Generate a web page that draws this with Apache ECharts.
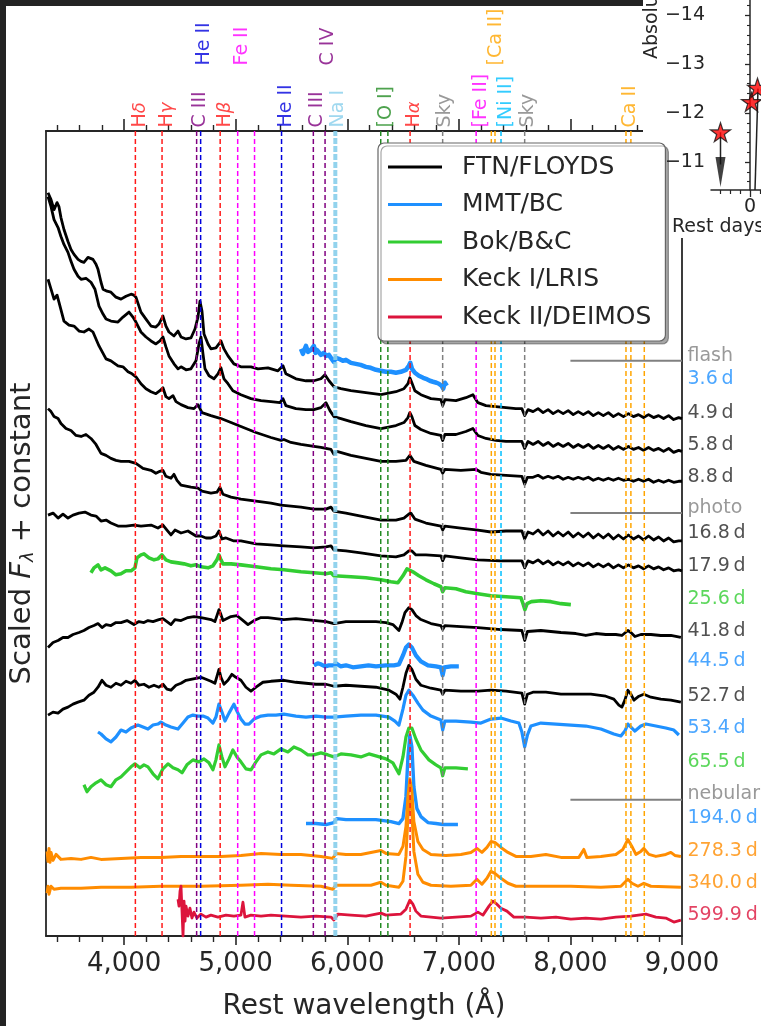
<!DOCTYPE html>
<html>
<head>
<meta charset="utf-8">
<script src="https://cdn.jsdelivr.net/npm/echarts@6/dist/echarts.min.js"></script>
<style>
html, body { margin: 0; padding: 0; background: #ffffff; }
#chart { width: 761px; height: 1026px; }
</style>
</head>
<body>
<div id="chart"></div>
<script>
// ---------- wavelength axis ticks (Angstrom) ----------
const waveMajorTicks = [4000, 5000, 6000, 7000, 8000, 9000];
const waveMinorTicks = [3400, 3600, 3800, 4200, 4400, 4600, 4800, 5200, 5400, 5600, 5800,
  6200, 6400, 6600, 6800, 7200, 7400, 7600, 7800, 8200, 8400, 8600, 8800];

// ---------- instruments ----------
const instruments = ['FTN/FLOYDS', 'MMT/BC', 'Bok/B&C', 'Keck I/LRIS', 'Keck II/DEIMOS'];
const instrumentColors = ['#000000', '#1e90ff', '#32cd32', '#ff8c00', '#dc143c'];

// ---------- spectra: [rest wavelength, scaled flux + constant] ----------
const spec_3_6 = [[5585,59.0],[5603,58.5],[5612,58.8],[5630,59.3],[5648,58.7],[5674,58.9],[5701,59.3],[5715,58.6],[5728,58.9],[5764,58.4],[5790,58.6],[5809,58.3],[5836,58.4],[5854,58.1],[5880,57.7],[5898,58.1],[5925,58.0],[5960,57.8],[5988,57.9],[6033,57.6],[6077,57.5],[6120,57.4],[6167,57.2],[6210,57.1],[6257,56.9],[6300,56.8],[6347,56.7],[6390,56.7],[6436,56.6],[6480,56.7],[6526,56.9],[6552,57.3],[6565,57.6],[6580,57.0],[6606,56.6],[6642,56.3],[6680,56.1],[6705,56.0],[6740,55.8],[6768,55.7],[6800,55.6],[6821,55.5],[6845,55.3],[6860,55.0],[6875,55.6],[6893,55.3]];

const spec_4_9 = [[3318,74.7],[3345,74.0],[3372,73.0],[3399,73.7],[3416,73.3],[3434,72.2],[3461,71.0],[3497,69.8],[3524,69.0],[3551,68.5],[3587,68.0],[3614,67.8],[3640,67.7],[3676,68.2],[3721,68.0],[3748,67.5],[3766,67.0],[3793,65.7],[3811,65.0],[3847,64.8],[3882,64.7],[3927,64.2],[3972,64.0],[4017,64.3],[4062,64.5],[4088,64.4],[4106,64.2],[4151,62.7],[4196,62.0],[4241,61.3],[4285,61.2],[4312,61.5],[4348,62.3],[4375,61.3],[4402,60.7],[4447,60.3],[4483,60.8],[4510,60.2],[4555,60.0],[4599,60.1],[4635,61.0],[4662,62.2],[4680,63.8],[4698,62.8],[4716,60.5],[4752,59.5],[4778,59.0],[4823,59.1],[4850,59.5],[4868,59.8],[4895,59.0],[4931,58.3],[4984,57.5],[5047,57.2],[5137,57.2],[5200,57.0],[5289,57.1],[5379,56.8],[5424,57.3],[5450,56.5],[5540,56.0],[5630,55.8],[5701,55.8],[5764,56.0],[5800,56.4],[5836,55.8],[5880,55.2],[5943,55.0],[6033,54.8],[6167,54.6],[6302,54.4],[6436,54.7],[6508,55.0],[6544,55.5],[6561,56.1],[6579,55.6],[6606,54.8],[6660,54.4],[6750,54.0],[6839,53.9],[6855,53.3],[6875,53.9],[6974,53.8],[7063,54.1],[7126,54.4],[7171,53.6],[7243,53.3],[7332,53.2],[7422,53.1],[7511,53.0],[7565,53.0],[7590,52.3],[7620,52.9],[7665,52.7],[7710,53.0],[7755,52.6],[7800,52.9],[7845,52.5],[7890,52.8],[7935,52.5],[7980,52.8],[8025,52.4],[8070,52.7],[8115,52.4],[8160,52.7],[8205,52.3],[8250,52.6],[8295,52.3],[8340,52.6],[8385,52.2],[8430,52.5],[8475,52.2],[8520,52.5],[8565,52.2],[8610,52.4],[8655,52.1],[8700,52.4],[8745,52.1],[8790,52.3],[8835,52.0],[8880,52.3],[8925,51.9],[8970,52.1],[9000,52.0]];

const spec_5_8 = [[3318,74.3],[3345,73.3],[3372,72.0],[3408,71.2],[3434,70.3],[3461,69.5],[3497,68.7],[3524,67.8],[3551,67.0],[3587,66.3],[3614,66.0],[3658,66.1],[3703,65.7],[3739,65.0],[3775,63.3],[3811,62.5],[3838,62.0],[3882,61.8],[3945,61.7],[3990,62.2],[4044,62.7],[4079,62.2],[4106,61.7],[4151,60.7],[4196,60.2],[4241,59.8],[4285,59.5],[4321,59.8],[4348,60.2],[4375,59.2],[4402,58.3],[4447,57.5],[4483,57.0],[4510,57.2],[4555,56.9],[4599,57.0],[4644,57.8],[4671,59.5],[4689,60.2],[4707,58.5],[4725,57.0],[4761,56.3],[4805,56.0],[4841,56.5],[4868,57.1],[4895,56.0],[4931,55.5],[4975,54.8],[5047,54.4],[5137,54.0],[5227,53.8],[5316,53.7],[5397,53.6],[5424,54.0],[5450,53.3],[5540,53.0],[5630,52.9],[5701,52.9],[5764,53.1],[5809,53.6],[5845,52.8],[5880,52.2],[5943,52.0],[6033,51.7],[6167,51.3],[6302,51.0],[6436,51.3],[6508,51.6],[6544,52.1],[6561,52.6],[6579,52.2],[6606,51.3],[6660,50.9],[6750,50.5],[6839,50.3],[6855,49.8],[6875,50.4],[6974,50.4],[7063,50.7],[7126,51.0],[7171,50.3],[7243,50.0],[7332,49.8],[7422,49.7],[7565,49.7],[7590,49.0],[7620,49.7],[7665,49.4],[7710,49.7],[7755,49.3],[7800,49.6],[7845,49.2],[7890,49.5],[7935,49.2],[7980,49.5],[8025,49.1],[8070,49.4],[8115,49.1],[8160,49.4],[8205,49.0],[8250,49.3],[8295,49.0],[8340,49.3],[8385,48.9],[8430,49.2],[8475,48.9],[8520,49.2],[8565,48.9],[8610,49.1],[8655,48.8],[8700,49.1],[8745,48.8],[8790,49.0],[8835,48.7],[8880,49.0],[8925,48.6],[8970,48.8],[9000,48.7]];

const spec_8_8 = [[3318,66.0],[3345,65.0],[3372,64.0],[3399,64.4],[3416,63.7],[3461,61.8],[3506,61.4],[3551,61.3],[3596,60.8],[3640,60.7],[3685,61.0],[3721,60.7],[3775,59.3],[3838,58.0],[3882,57.8],[3945,57.3],[3990,57.2],[4035,56.7],[4071,56.5],[4106,56.2],[4151,55.5],[4196,55.0],[4241,54.7],[4285,54.5],[4321,54.8],[4348,55.1],[4375,54.2],[4402,54.0],[4438,54.3],[4465,53.7],[4510,53.4],[4572,53.1],[4626,53.0],[4662,53.4],[4698,52.6],[4778,52.3],[4868,52.0],[4958,51.6],[5047,51.2],[5182,50.6],[5316,50.1],[5406,49.8],[5432,49.9],[5495,49.6],[5585,49.4],[5701,49.2],[5764,49.1],[5809,49.0],[5854,48.9],[5880,48.4],[5907,48.7],[6033,48.3],[6167,48.0],[6302,47.7],[6436,47.7],[6526,47.8],[6561,48.3],[6597,47.7],[6705,47.3],[6839,46.9],[6855,46.5],[6875,46.9],[7018,46.8],[7153,46.9],[7198,46.6],[7288,46.4],[7422,46.3],[7565,46.2],[7590,45.4],[7615,46.1],[7665,46.1],[7710,46.3],[7755,46.0],[7800,46.2],[7845,46.0],[7890,46.2],[7935,45.9],[7980,46.1],[8025,45.9],[8070,46.1],[8115,45.9],[8160,46.1],[8205,45.8],[8250,46.0],[8295,45.8],[8340,46.0],[8385,45.8],[8430,46.0],[8475,45.8],[8520,45.9],[8565,45.7],[8610,45.9],[8655,45.7],[8700,45.9],[8745,45.6],[8790,45.8],[8835,45.6],[8880,45.8],[8925,45.6],[8970,45.7],[9000,45.7]];

const spec_16_8 = [[3318,53.0],[3345,52.7],[3372,52.2],[3408,52.0],[3434,51.5],[3479,51.0],[3524,50.8],[3569,50.3],[3614,50.2],[3658,50.4],[3703,50.0],[3748,49.4],[3793,48.5],[3838,48.3],[3882,48.0],[3927,47.8],[3972,47.7],[4044,47.7],[4106,47.5],[4169,47.0],[4241,46.8],[4285,46.5],[4321,46.7],[4348,46.8],[4375,46.2],[4420,46.0],[4447,46.4],[4474,45.8],[4510,45.3],[4599,45.1],[4662,45.0],[4698,44.7],[4778,44.5],[4832,44.6],[4859,45.1],[4886,44.4],[4958,44.1],[5047,43.9],[5182,43.7],[5316,43.5],[5406,43.3],[5495,43.2],[5585,43.1],[5701,42.9],[5809,42.9],[5854,43.1],[5880,42.7],[5988,42.5],[6122,42.2],[6302,41.8],[6436,41.8],[6508,42.0],[6552,42.4],[6570,42.5],[6606,41.9],[6705,41.5],[6839,41.2],[6855,40.8],[6875,41.2],[7018,41.0],[7171,40.8],[7288,40.6],[7422,40.7],[7565,40.7],[7590,39.9],[7620,40.6],[7665,40.4],[7710,40.8],[7755,40.3],[7800,40.7],[7845,40.2],[7890,40.6],[7935,40.2],[7980,40.6],[8025,40.1],[8070,40.5],[8115,40.1],[8160,40.5],[8205,40.0],[8250,40.4],[8295,40.0],[8340,40.4],[8385,39.9],[8430,40.3],[8475,39.9],[8520,40.3],[8565,39.9],[8610,40.2],[8655,39.8],[8700,40.2],[8745,39.8],[8790,40.1],[8835,39.7],[8880,40.0],[8925,39.6],[8970,39.7],[9000,39.7]];

const spec_17_9 = [[3318,42.3],[3363,42.5],[3408,42.0],[3452,42.4],[3497,42.0],[3542,42.3],[3596,42.5],[3649,42.6],[3703,42.3],[3748,42.2],[3793,41.7],[3838,41.8],[3882,41.5],[3945,41.2],[4017,41.2],[4088,41.3],[4151,41.2],[4241,41.3],[4303,41.0],[4348,41.3],[4384,40.8],[4420,40.3],[4456,40.8],[4510,40.5],[4572,40.7],[4644,40.2],[4689,40.2],[4734,40.0],[4778,40.0],[4823,40.2],[4850,40.7],[4877,39.9],[4913,40.0],[4984,39.7],[5047,39.7],[5182,39.4],[5316,39.3],[5432,39.2],[5585,39.1],[5701,39.0],[5809,39.1],[5854,39.2],[5880,38.8],[5988,38.7],[6122,38.5],[6302,38.2],[6436,38.1],[6508,38.3],[6552,38.7],[6579,38.7],[6615,38.3],[6705,38.3],[6839,38.2],[6855,37.7],[6875,38.2],[7018,38.0],[7171,37.8],[7377,37.7],[7565,37.7],[7590,37.0],[7620,37.7],[7665,37.5],[7710,37.8],[7755,37.4],[7800,37.7],[7845,37.3],[7890,37.6],[7935,37.3],[7980,37.6],[8025,37.2],[8070,37.5],[8115,37.2],[8160,37.5],[8205,37.1],[8250,37.4],[8295,37.1],[8340,37.4],[8385,37.0],[8430,37.3],[8475,37.0],[8520,37.3],[8565,37.0],[8610,37.2],[8655,36.9],[8700,37.2],[8745,36.9],[8790,37.1],[8835,36.8],[8880,37.0],[8925,36.7],[8970,36.8],[9000,36.7]];

const spec_25_6 = [[3703,36.5],[3730,37.0],[3766,37.3],[3793,36.8],[3829,37.0],[3882,36.7],[3927,36.3],[3972,36.4],[4017,36.7],[4062,36.7],[4097,37.0],[4115,38.0],[4151,38.3],[4178,38.4],[4223,38.0],[4268,37.8],[4303,37.9],[4339,38.3],[4375,37.8],[4420,37.6],[4483,37.5],[4537,37.4],[4599,37.2],[4644,37.3],[4689,37.1],[4752,37.0],[4796,37.2],[4832,37.8],[4850,38.3],[4868,37.8],[4886,37.4],[4958,37.4],[5047,37.3],[5182,37.1],[5316,36.9],[5432,36.8],[5585,36.6],[5701,36.5],[5809,36.4],[5854,36.5],[5880,36.2],[6033,36.1],[6167,36.0],[6302,35.8],[6391,35.6],[6454,35.5],[6499,36.2],[6535,36.9],[6552,37.0],[6588,36.6],[6642,36.2],[6705,35.8],[6777,35.4],[6839,35.1],[6855,34.6],[6875,35.0],[6974,34.9],[7063,34.6],[7171,34.4],[7288,34.2],[7422,34.1],[7556,34.0],[7575,33.4],[7592,32.8],[7612,33.4],[7650,33.6],[7735,33.7],[7825,33.6],[7915,33.4],[8004,33.3]];

const spec_41_8 = [[3318,29.0],[3363,29.5],[3408,29.7],[3452,30.0],[3497,30.0],[3542,30.3],[3596,30.5],[3640,30.7],[3685,31.0],[3730,31.2],[3766,31.4],[3802,31.0],[3838,31.3],[3882,31.2],[3927,31.5],[3972,31.5],[4026,31.7],[4088,31.3],[4133,31.6],[4178,31.5],[4214,31.7],[4259,31.6],[4312,31.8],[4348,31.9],[4384,31.6],[4420,31.3],[4456,31.8],[4510,31.7],[4572,32.0],[4626,32.1],[4689,32.0],[4734,31.9],[4778,31.8],[4814,31.6],[4832,32.2],[4850,32.8],[4868,32.3],[4886,31.7],[4922,31.9],[4958,32.1],[5011,32.2],[5056,31.8],[5110,31.3],[5164,31.7],[5227,32.0],[5289,32.0],[5361,31.9],[5432,31.8],[5540,31.9],[5630,31.8],[5719,31.7],[5809,31.6],[5880,31.4],[5988,31.6],[6122,31.6],[6257,31.6],[6347,31.5],[6409,31.3],[6463,30.7],[6490,31.5],[6517,32.5],[6552,33.0],[6579,32.8],[6615,32.2],[6660,31.8],[6750,31.4],[6839,31.2],[6855,30.8],[6875,31.2],[7018,31.1],[7171,31.0],[7377,30.8],[7565,30.7],[7590,29.7],[7615,30.6],[7735,30.7],[7915,30.5],[8049,30.4],[8138,30.2],[8228,30.4],[8317,30.3],[8407,30.3],[8461,30.2],[8515,30.7],[8542,30.5],[8578,30.1],[8631,30.3],[8721,30.3],[8810,30.2],[8900,30.2],[8990,30.0]];

const spec_44_5 = [[5701,27.2],[5735,27.4],[5764,27.3],[5800,27.1],[5836,27.2],[5880,27.2],[5898,27.4],[5940,27.1],[5988,27.2],[6050,27.0],[6122,27.1],[6190,27.2],[6257,27.1],[6347,27.2],[6418,27.2],[6463,27.3],[6499,28.2],[6526,29.0],[6552,29.3],[6579,29.0],[6615,28.2],[6660,27.6],[6723,27.2],[6795,27.1],[6839,27.0],[6855,26.2],[6870,27.0],[6929,27.1],[7000,27.1]];

const spec_52_7 = [[3318,22.2],[3363,22.5],[3408,22.4],[3452,22.8],[3497,23.0],[3542,23.3],[3587,23.5],[3640,23.7],[3685,24.2],[3730,24.5],[3766,25.0],[3802,25.7],[3838,25.2],[3882,25.0],[3927,25.4],[3972,25.2],[4017,25.6],[4062,25.4],[4097,25.7],[4133,25.2],[4178,25.3],[4223,25.0],[4268,25.2],[4312,25.0],[4348,25.3],[4384,24.8],[4420,24.7],[4465,25.2],[4510,25.4],[4555,25.7],[4599,25.8],[4644,25.9],[4689,26.0],[4734,25.8],[4778,25.6],[4814,25.4],[4832,26.1],[4850,26.8],[4868,26.0],[4895,25.3],[4931,25.7],[4966,26.3],[5002,26.0],[5047,25.7],[5092,25.0],[5137,24.6],[5182,25.0],[5244,25.5],[5316,25.6],[5432,25.7],[5540,25.5],[5630,25.4],[5719,25.3],[5809,25.3],[5880,25.1],[5988,25.2],[6122,25.1],[6257,25.0],[6373,24.7],[6436,24.3],[6472,23.8],[6499,25.0],[6526,26.4],[6552,27.2],[6579,26.8],[6615,25.8],[6660,25.2],[6750,24.9],[6839,24.7],[6855,24.3],[6875,24.7],[7018,24.6],[7171,24.6],[7288,24.7],[7422,24.6],[7565,24.4],[7590,23.3],[7615,24.3],[7664,24.5],[7780,24.5],[7915,24.3],[8049,24.3],[8183,24.3],[8317,24.1],[8389,23.8],[8434,23.2],[8461,23.0],[8488,23.7],[8515,24.7],[8542,24.3],[8569,23.7],[8614,24.1],[8658,24.3],[8721,24.0],[8810,23.8],[8900,23.7],[8990,23.5]];

const spec_53_4 = [[3766,20.5],[3793,20.3],[3838,19.8],[3882,19.5],[3927,20.0],[3972,20.7],[4017,20.5],[4062,20.9],[4124,21.2],[4169,21.0],[4214,20.8],[4259,21.2],[4303,21.3],[4330,21.5],[4375,21.2],[4420,21.0],[4483,20.8],[4528,21.4],[4572,22.0],[4617,22.2],[4662,22.1],[4707,22.1],[4752,21.9],[4796,21.4],[4823,22.0],[4850,23.3],[4877,22.5],[4904,21.6],[4940,22.4],[4984,23.3],[5011,22.6],[5047,21.8],[5083,21.3],[5119,21.3],[5164,21.8],[5227,22.1],[5289,22.2],[5361,22.2],[5432,22.3],[5540,22.1],[5630,22.0],[5719,22.1],[5809,22.0],[5880,22.0],[5988,22.1],[6122,22.2],[6257,22.2],[6373,22.0],[6427,21.6],[6463,21.2],[6499,22.8],[6526,24.2],[6552,24.7],[6588,24.2],[6633,23.4],[6678,22.7],[6750,22.1],[6839,21.7],[6855,20.7],[6875,21.6],[6974,21.6],[7108,21.5],[7198,21.4],[7288,21.8],[7377,21.9],[7467,21.6],[7538,21.4],[7565,20.5],[7590,19.0],[7615,20.2],[7646,21.1],[7735,21.4],[7870,21.3],[8004,21.2],[8138,21.1],[8273,20.8],[8389,20.3],[8452,20.1],[8488,20.6],[8515,21.3],[8542,21.0],[8578,20.6],[8631,21.1],[8676,21.3],[8766,21.1],[8855,20.9],[8927,20.7],[8972,20.2]];

const spec_65_5 = [[3640,15.2],[3667,14.5],[3703,15.0],[3748,15.4],[3793,15.7],[3838,15.2],[3882,15.0],[3927,15.7],[3972,16.0],[4017,16.5],[4062,17.0],[4097,17.3],[4142,16.9],[4178,17.2],[4214,17.0],[4259,16.3],[4303,15.8],[4348,16.8],[4393,17.3],[4438,16.9],[4483,16.7],[4519,16.4],[4563,17.2],[4617,17.7],[4671,17.5],[4716,17.8],[4761,17.4],[4796,16.7],[4823,17.7],[4850,19.2],[4877,18.0],[4904,17.0],[4940,17.8],[4975,18.7],[5011,18.0],[5047,17.5],[5092,16.8],[5137,16.7],[5182,17.5],[5227,18.2],[5289,18.5],[5343,18.3],[5406,18.8],[5468,18.5],[5522,19.0],[5585,18.7],[5647,18.2],[5701,18.2],[5764,18.4],[5827,18.2],[5880,18.0],[5943,18.3],[6033,18.2],[6122,18.0],[6194,18.3],[6257,18.1],[6347,17.8],[6409,17.4],[6463,16.3],[6499,18.0],[6526,20.0],[6552,20.9],[6579,20.9],[6615,19.8],[6660,18.7],[6732,17.7],[6795,17.2],[6839,16.9],[6855,16.1],[6875,16.9],[6974,16.9],[7081,16.8]];

const spec_194_0 = [[5630,11.3],[5719,11.3],[5809,11.2],[5880,11.4],[5907,11.8],[5988,11.7],[6122,11.7],[6257,11.7],[6391,11.5],[6463,11.3],[6499,11.8],[6526,14.0],[6544,18.0],[6561,20.2],[6579,19.0],[6597,15.0],[6624,12.8],[6660,12.0],[6723,11.4],[6795,11.3],[6857,11.2],[6929,11.2],[6992,11.2]];

const spec_278_3 = [[3310,8.5],[3318,7.5],[3327,8.8],[3336,7.4],[3345,8.4],[3363,7.6],[3390,8.2],[3434,7.7],[3524,7.8],[3614,7.7],[3703,7.9],[3793,7.7],[3972,7.8],[4151,7.9],[4330,7.9],[4510,8.0],[4689,8.0],[4868,8.0],[5047,8.1],[5227,8.3],[5406,8.2],[5585,8.2],[5764,8.0],[5871,7.8],[5898,8.3],[5988,8.2],[6122,8.2],[6257,8.5],[6302,8.6],[6347,8.3],[6463,8.2],[6499,9.0],[6526,11.0],[6544,14.0],[6561,15.8],[6579,14.5],[6597,11.5],[6633,9.5],[6678,8.7],[6750,8.2],[6884,8.1],[7018,8.2],[7108,8.4],[7162,8.8],[7207,8.4],[7252,8.9],[7288,9.5],[7323,9.4],[7377,8.9],[7440,8.4],[7511,8.0],[7646,8.0],[7780,8.2],[7915,7.9],[8076,7.9],[8120,8.7],[8147,7.9],[8273,8.0],[8407,8.2],[8470,8.7],[8515,9.7],[8551,9.0],[8587,8.2],[8631,8.5],[8658,8.8],[8703,8.2],[8766,8.0],[8855,8.2],[8900,8.4],[8936,8.1],[8990,8.0]];

const spec_340_0 = [[3310,4.3],[3318,5.0],[3327,4.2],[3345,5.0],[3372,4.7],[3434,4.8],[3614,4.8],[3793,4.9],[4062,4.9],[4330,5.0],[4689,5.0],[5047,5.1],[5289,5.2],[5495,5.1],[5764,5.0],[5871,4.7],[5898,5.1],[6033,5.1],[6212,5.1],[6302,5.4],[6347,5.1],[6463,4.9],[6499,5.5],[6526,8.0],[6544,12.0],[6561,14.0],[6579,12.5],[6597,8.5],[6633,6.2],[6678,5.4],[6750,5.1],[6929,5.0],[7108,5.1],[7162,5.7],[7207,5.2],[7252,5.8],[7288,6.5],[7323,6.3],[7377,5.8],[7440,5.3],[7511,5.0],[7735,5.0],[8004,5.0],[8273,4.9],[8452,5.0],[8515,5.7],[8551,5.3],[8605,5.0],[8658,5.3],[8721,5.0],[8990,4.9]];

const spec_599_9 = [[4483,3.7],[4492,3.0],[4501,4.5],[4510,5.0],[4519,2.5],[4528,0.0],[4537,3.5],[4546,1.5],[4555,3.0],[4572,2.0],[4590,2.8],[4608,1.8],[4626,2.4],[4653,1.8],[4689,2.2],[4734,1.9],[4778,2.1],[4841,1.9],[4913,2.1],[4984,2.0],[5047,2.1],[5065,3.4],[5083,1.9],[5137,2.1],[5227,2.0],[5316,2.1],[5450,2.0],[5585,1.9],[5719,2.0],[5854,1.9],[5880,1.6],[5916,2.2],[6033,2.1],[6167,2.0],[6302,2.3],[6347,2.1],[6481,2.2],[6526,2.7],[6561,3.6],[6588,3.2],[6615,2.5],[6660,2.0],[6750,1.9],[6839,1.8],[6974,1.9],[7108,2.0],[7171,2.4],[7216,2.1],[7270,3.0],[7305,3.5],[7341,3.2],[7377,2.8],[7431,2.5],[7493,1.9],[7601,1.9],[7735,1.8],[7870,1.9],[8004,1.7],[8138,1.8],[8273,1.7],[8407,1.9],[8542,2.0],[8676,2.2],[8766,1.9],[8855,1.8],[8927,1.4],[8990,1.6]];

// ---------- epochs (rest-frame days), one per spectrum ----------
const epochText = ['3.6 d','4.9 d','5.8 d','8.8 d','16.8 d','17.9 d','25.6 d','41.8 d','44.5 d','52.7 d','53.4 d','65.5 d','194.0 d','278.3 d','340.0 d','599.9 d'];
const epochInstrument = [1,0,0,0,0,0,2,0,1,0,1,2,1,3,3,4];
const epochLabelLevel = [55.95,52.6,49.3,46.1,40.5,37.15,33.9,30.65,27.6,24.1,20.85,17.5,11.85,8.5,5.35,2.15];
const spectra = [spec_3_6, spec_4_9, spec_5_8, spec_8_8, spec_16_8, spec_17_9, spec_25_6, spec_41_8, spec_44_5, spec_52_7, spec_53_4, spec_65_5, spec_194_0, spec_278_3, spec_340_0, spec_599_9];

// ---------- phase separators ----------
const phaseText = ['flash', 'photo', 'nebular'];
const phaseLabelLevel = [58.3, 43.0, 14.3];
const phaseRuleLevel = [57.8, 42.5, 13.7];
const phaseRuleFrom = 8000;

// ---------- line identifications ----------
const lineWave = [4101, 4340, 4650, 4686, 4861, 5018, 5169, 5411, 5696, 5801, 5893, 6300, 6364, 6563, 6855, 7155, 7291, 7324, 7378, 7590, 8498, 8542, 8662];
const lineColor = ['#ff1a1a','#ff1a1a','#800080','#0000dd','#ff1a1a','#ff00ff','#ff00ff','#0000dd','#800080','#800080','#87ceeb','#228b22','#228b22','#ff1a1a','#808080','#ff00ff','#ffa500','#ffa500','#00bfff','#808080','#ffa500','#ffa500','#ffa500'];

const idText = ['Hδ','Hγ','C III','He II','Hβ','Fe II','He II','C III','C IV','Na I','[O I]','Hα','Sky','[Fe II]','[Ca II]','[Ni II]','Sky','Ca II'];
const idWave = [4149, 4389, 4689, 4725, 4908, 5062, 5459, 5737, 5836, 5921, 6355, 6606, 6884, 7202, 7336, 7426, 7623, 8537];
const idTier = [0, 0, 0, 1, 0, 1, 0, 0, 1, 0, 0, 0, 0, 0, 1, 0, 0, 0];
const idColor = ['#ff1a1a','#ff1a1a','#800080','#0000dd','#ff1a1a','#ff00ff','#0000dd','#800080','#800080','#87ceeb','#228b22','#ff1a1a','#808080','#ff00ff','#ffa500','#00bfff','#808080','#ffa500'];

// ---------- inset: early light curve ----------
const insetDays = [-2.95, 0.15, 0.75];
const insetMags = [-11.61, -12.23, -12.52];
const upperLimitDay = -2.95;
const upperLimitMag = -11.61;
const riseDays = [0.5, 0.8];
const riseMags = [-10.43, -12.5];
const magMajorTicks = [-14, -13, -12, -11];
const magMinorTicks = [-14.2, -13.8, -13.6, -13.4, -13.2, -12.8, -12.6, -12.4, -12.2, -11.8, -11.6, -11.4, -11.2, -10.8, -10.6];
const dayMajorTicks = [0];
const dayMinorTicks = [-3, -2, -1, 1];

// ---------- drawing ----------
const FONT = 'DejaVu Sans';
const INK = '#262626';
const YMAX = 80.9;

const chart = echarts.init(document.getElementById('chart'), null, { renderer: 'canvas', width: 761, height: 1026 });

function thousands(v) { return String(v).replace(/\B(?=(\d{3})+(?!\d))/g, ','); }
function minus(v) { return (v < 0 ? '\u2212' : '') + Math.abs(v); }
function greek(s) { return s.replace(/([αβγδ])/g, '{g|$1}'); }

const spectrumWidth = [4.5, 2.8, 2.8, 2.8, 2.8, 2.8, 3.6, 2.8, 4.2, 2.8, 3.2, 3.2, 3.4, 3.0, 3.0, 2.8];

const series = [];

spectra.forEach(function (data, i) {
  const inst = epochInstrument[i];
  series.push({
    type: 'line', name: instruments[inst], data: data,
    symbol: 'none', smooth: false, z: 2, silent: true,
    lineStyle: { color: instrumentColors[inst], width: spectrumWidth[i], join: 'round' },
    itemStyle: { color: instrumentColors[inst] }
  });
});

lineWave.forEach(function (w, i) {
  const thick = lineColor[i] === '#87ceeb';
  series.push({
    type: 'line', name: 'id-' + i, data: [[w, 0], [w, YMAX]],
    symbol: 'none', silent: true, z: 3,
    lineStyle: { color: lineColor[i], width: thick ? 4 : 1.5, type: thick ? [6, 2] : [5, 3], opacity: thick ? 0.9 : 1 }
  });
});

phaseRuleLevel.forEach(function (lv, i) {
  series.push({
    type: 'line', name: 'phase-' + i, data: [[phaseRuleFrom, lv], [9000, lv]],
    symbol: 'none', silent: true, z: 3,
    lineStyle: { color: '#808080', width: 2 }
  });
});

// line identifications above the frame
series.push({
  type: 'scatter', name: 'ids', silent: true, clip: false, z: 5,
  symbol: 'circle', symbolSize: 1, itemStyle: { color: 'rgba(0,0,0,0)' },
  data: idWave.map(function (w, i) {
    return { value: [w, YMAX], label: { color: idColor[i], position: [0, idTier[i] ? -65 : -3] } };
  }),
  label: {
    show: true, rotate: 90, align: 'left', verticalAlign: 'middle',
    fontSize: 19, fontFamily: FONT,
    formatter: function (p) { return greek(idText[p.dataIndex]); },
    rich: { g: { fontStyle: 'italic', fontSize: 18, fontFamily: FONT } }
  }
});

// epoch labels to the right of the frame
series.push({
  type: 'scatter', name: 'epochs', silent: true, clip: false, z: 5,
  symbol: 'circle', symbolSize: 1, itemStyle: { color: 'rgba(0,0,0,0)' },
  data: epochLabelLevel.map(function (lv, i) {
    const c = epochInstrument[i] === 0 ? INK : instrumentColors[epochInstrument[i]];
    return { value: [9000, lv], label: { color: c } };
  }),
  label: {
    show: true, position: 'right', distance: 5, fontSize: 19, fontFamily: FONT,
    formatter: function (p) { return epochText[p.dataIndex].replace(' ', '\u2009'); }
  }
});

series.push({
  type: 'scatter', name: 'phases', silent: true, clip: false, z: 5,
  symbol: 'circle', symbolSize: 1, itemStyle: { color: 'rgba(0,0,0,0)' },
  data: phaseLabelLevel.map(function (lv) { return [9000, lv]; }),
  label: {
    show: true, position: 'right', distance: 5, fontSize: 19, fontFamily: FONT, color: '#808080',
    formatter: function (p) { return phaseText[p.dataIndex]; }
  }
});

// inset series
series.push({
  type: 'line', name: 'rise', xAxisIndex: 4, yAxisIndex: 2, z: 11, silent: true,
  data: riseDays.map(function (d, i) { return [d, riseMags[i]]; }),
  symbol: 'none', lineStyle: { color: '#222', width: 1.5 }
});
series.push({
  type: 'line', name: 'limit', xAxisIndex: 4, yAxisIndex: 2, z: 11, silent: true,
  data: [[upperLimitDay, upperLimitMag], [upperLimitDay, -10.95]],
  symbol: 'none', lineStyle: { color: '#222', width: 1.5 }
});
series.push({
  type: 'scatter', name: 'limit-head', xAxisIndex: 4, yAxisIndex: 2, z: 11, silent: true,
  data: [[upperLimitDay, -10.8]],
  symbol: 'triangle', symbolSize: [10, 30], symbolRotate: 180,
  itemStyle: { color: '#111' }
});
series.push({
  type: 'scatter', name: 'detections', xAxisIndex: 4, yAxisIndex: 2, z: 12, silent: true,
  data: insetDays.map(function (d, i) { return [d, insetMags[i]]; }),
  symbol: 'path://M50,0 L61.2,34.5 L97.6,34.5 L68.2,55.9 L79.4,90.5 L50,69.1 L20.6,90.5 L31.8,55.9 L2.4,34.5 L38.8,34.5 Z',
  symbolSize: 20, symbolKeepAspect: true,
  itemStyle: { color: '#ff0000', borderColor: '#111', borderWidth: 1.2 }
});

const axisLine = { show: true, lineStyle: { color: INK, width: 1.8 } };
const noSplit = { show: false };

const option = {
  animation: false,
  backgroundColor: '#ffffff',
  textStyle: { fontFamily: FONT },
  grid: [
    { left: 45, right: 79, top: 131, bottom: 86 },
    { left: 711, top: 0, width: 50, height: 190 }
  ],
  xAxis: [
    { gridIndex: 0, type: 'value', position: 'bottom', min: 3300, max: 9000,
      axisLine: axisLine, splitLine: noSplit,
      axisTick: { show: true, length: 9, lineStyle: { color: INK, width: 1.6 }, customValues: waveMajorTicks },
      axisLabel: { show: true, customValues: waveMajorTicks, formatter: thousands, fontSize: 26, color: INK, fontFamily: FONT, margin: 15 },
      name: 'Rest wavelength (Å)', nameLocation: 'middle', nameGap: 57,
      nameTextStyle: { fontSize: 28, color: INK, fontFamily: FONT } },
    { gridIndex: 0, type: 'value', position: 'bottom', min: 3300, max: 9000,
      axisLine: { show: false }, splitLine: noSplit, axisLabel: { show: false },
      axisTick: { show: true, length: 6, lineStyle: { color: INK, width: 1.4 }, customValues: waveMinorTicks } },
    { gridIndex: 0, type: 'value', position: 'top', min: 3300, max: 9000,
      axisLine: axisLine, splitLine: noSplit, axisLabel: { show: false },
      axisTick: { show: true, length: 12, lineStyle: { color: INK, width: 1.6 }, customValues: waveMajorTicks } },
    { gridIndex: 0, type: 'value', position: 'top', min: 3300, max: 9000,
      axisLine: { show: false }, splitLine: noSplit, axisLabel: { show: false },
      axisTick: { show: true, length: 6, lineStyle: { color: INK, width: 1.4 }, customValues: waveMinorTicks } },
    { gridIndex: 1, type: 'value', position: 'bottom', min: -3.9, max: 1.1, z: 10,
      axisLine: { show: true, lineStyle: { color: INK, width: 1.5 } }, splitLine: noSplit,
      axisTick: { show: true, length: 7, lineStyle: { color: INK, width: 1.3 }, customValues: dayMajorTicks },
      axisLabel: { show: true, customValues: dayMajorTicks, formatter: minus, fontSize: 19, color: INK, fontFamily: FONT, margin: 8 } },
    { gridIndex: 1, type: 'value', position: 'bottom', min: -3.9, max: 1.1, z: 10,
      axisLine: { show: false }, splitLine: noSplit, axisLabel: { show: false },
      axisTick: { show: true, length: 4, lineStyle: { color: INK, width: 1.2 }, customValues: dayMinorTicks } }
  ],
  yAxis: [
    { gridIndex: 0, type: 'value', position: 'left', min: 0, max: YMAX,
      axisLine: axisLine, axisTick: { show: false }, axisLabel: { show: false }, splitLine: noSplit,
      name: '{t|Scaled }{f|F}{s|λ}{t| + constant}', nameLocation: 'middle', nameRotate: 90, nameGap: 9,
      nameTextStyle: {
        color: INK, fontFamily: FONT, fontSize: 29,
        rich: {
          t: { fontSize: 29, fontFamily: FONT, color: INK, verticalAlign: 'bottom', lineHeight: 33 },
          f: { fontSize: 29, fontFamily: FONT, color: INK, fontStyle: 'italic', verticalAlign: 'bottom', lineHeight: 33 },
          s: { fontSize: 18, fontFamily: FONT, color: INK, fontStyle: 'italic', verticalAlign: 'bottom', lineHeight: 17 }
        }
      } },
    { gridIndex: 0, type: 'value', position: 'right', min: 0, max: YMAX,
      axisLine: axisLine, axisTick: { show: false }, axisLabel: { show: false }, splitLine: noSplit },
    { gridIndex: 1, type: 'value', position: 'left', min: -14.31, max: -10.43, inverse: true, z: 10,
      axisLine: { show: true, lineStyle: { color: INK, width: 1.5 } }, splitLine: noSplit,
      axisTick: { show: true, length: 5, lineStyle: { color: INK, width: 1.3 }, customValues: magMajorTicks },
      axisLabel: { show: true, customValues: magMajorTicks, formatter: minus, fontSize: 19, color: INK, fontFamily: FONT, margin: 6 } },
    { gridIndex: 1, type: 'value', position: 'left', min: -14.31, max: -10.43, inverse: true, z: 10,
      axisLine: { show: false }, splitLine: noSplit, axisLabel: { show: false },
      axisTick: { show: true, length: 3, lineStyle: { color: INK, width: 1.1 }, customValues: magMinorTicks } }
  ],
  legend: {
    data: instruments, orient: 'vertical', left: 378, top: 143, z: 7,
    icon: 'rect', itemWidth: 54, itemHeight: 3, itemGap: 9.5,
    padding: [10, 14, 10, 10], selectedMode: false,
    backgroundColor: '#ffffff', borderColor: '#666', borderWidth: 1.2, borderRadius: 6,
    shadowColor: 'rgba(0,0,0,0.35)', shadowOffsetX: 3, shadowOffsetY: 3, shadowBlur: 0,
    textStyle: { fontSize: 25, fontFamily: FONT, color: INK, lineHeight: 28, padding: [0, 0, 0, 15] }
  },
  graphic: { elements: [
    { type: 'rect', z: 6, silent: true, shape: { x: 643, y: 0, width: 118, height: 238 }, style: { fill: '#ffffff' } },
    { type: 'rect', z: 100, silent: true, shape: { x: 0, y: 0, width: 643, height: 6 }, style: { fill: '#232323' } },
    { type: 'rect', z: 100, silent: true, shape: { x: 0, y: 0, width: 6, height: 1026 }, style: { fill: '#232323' } },
    { type: 'text', z: 12, silent: true, x: 672, y: 227,
      style: { text: 'Rest days', fontSize: 19, fontFamily: FONT, fill: INK, align: 'left', verticalAlign: 'middle', textAlign: 'left', textVerticalAlign: 'middle' } },
    { type: 'text', z: 12, silent: true, x: 652, y: 59, rotation: Math.PI / 2,
      style: { text: 'Absolute magnitude', fontSize: 19, fontFamily: FONT, fill: INK, align: 'left', verticalAlign: 'middle', textAlign: 'left', textVerticalAlign: 'middle' } }
  ] },
  series: series
};

chart.setOption(option);
</script>
</body>
</html>
